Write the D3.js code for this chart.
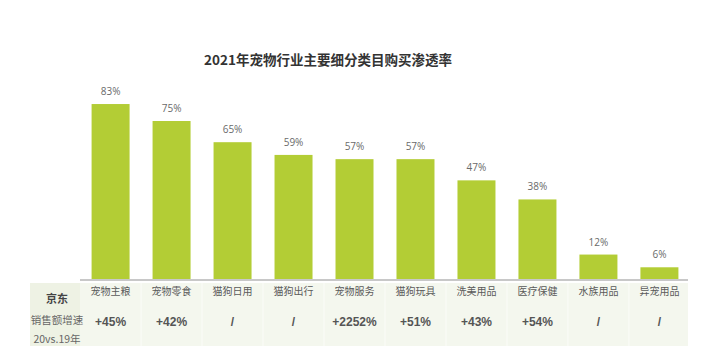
<!DOCTYPE html>
<html><head><meta charset="utf-8">
<script src="https://cdn.jsdelivr.net/npm/d3@7"></script>
<style>body{margin:0;background:#fff;font-family:"Noto Sans CJK SC","Noto Sans",sans-serif;}</style>
</head><body><svg id="c" width="727" height="361"></svg>
<script>
const categories = ["宠物主粮","宠物零食","猫狗日用","猫狗出行","宠物服务","猫狗玩具","洗美用品","医疗保健","水族用品","异宠用品"];
const penetration = [83,75,65,59,57,57,47,38,12,6];
const growth = ["+45%","+42%","/","/","+2252%","+51%","+43%","+54%","/","/"];
const title = "2021年宠物行业主要细分类目购买渗透率";
const rowHeader = ["京东","销售额增速","20vs.19年"];

const svg = d3.select("#c");
const x = d3.scaleBand().domain(categories).range([80,690]).paddingInner(0.377).paddingOuter(0.19);
const y = d3.scaleLinear().domain([0,100]).range([280,68]);

svg.append("text").attr("x",328).attr("y",65).attr("text-anchor","middle")
  .attr("font-size",13.5).attr("font-weight","bold").attr("fill","#333").text(title);

// table background
svg.append("rect").attr("x",30).attr("y",283).attr("width",658).attr("height",63).attr("fill","#f4f7ee");
svg.append("rect").attr("x",30).attr("y",283).attr("width",50).attr("height",63).attr("fill","#eef2e4");
categories.forEach((c,i)=>{
  if(i>0) svg.append("line").attr("x1",x(c)-x.step()*x.paddingInner()/2).attr("x2",x(c)-x.step()*x.paddingInner()/2)
    .attr("y1",283).attr("y2",346).attr("stroke","#fbfcf8").attr("stroke-width",1);
});

svg.selectAll("rect.bar").data(categories).join("rect").attr("class","bar")
  .attr("x",d=>x(d)).attr("width",x.bandwidth())
  .attr("y",(d,i)=>y(penetration[i])).attr("height",(d,i)=>y(0)-y(penetration[i]))
  .attr("fill","#b3cd35");

svg.selectAll("text.val").data(categories).join("text").attr("class","val")
  .attr("x",d=>x(d)+x.bandwidth()/2).attr("y",(d,i)=>y(penetration[i])-9)
  .attr("text-anchor","middle").attr("font-size",10).attr("fill","#6a6a6a")
  .attr("font-family","'Open Sans',sans-serif")
  .text((d,i)=>penetration[i]+"%");

const xAxis = d3.axisBottom(x).tickSize(0).tickPadding(8);
const ga = svg.append("g").attr("transform","translate(0,280)").call(xAxis);
ga.select(".domain").attr("stroke","#c8c8c8").attr("stroke-width",2).attr("d","M80,0H688");
ga.selectAll("text").attr("font-size",10).attr("fill","#5a5a5a")
  .attr("font-family","'Noto Sans CJK SC',sans-serif");

svg.selectAll("text.g").data(categories).join("text").attr("class","g")
  .attr("x",d=>x(d)+x.bandwidth()/2).attr("y",326)
  .attr("text-anchor","middle").attr("font-size",12).attr("font-weight","bold").attr("fill","#555")
  .attr("font-family","'Liberation Sans',Arial,sans-serif")
  .text((d,i)=>growth[i]);

svg.selectAll("text.rh").data(rowHeader).join("text").attr("class","rh")
  .attr("x",57).attr("y",(d,i)=>[303,324,343][i])
  .attr("text-anchor","middle").attr("font-size",(d,i)=>i===0?11:10.5)
  .attr("font-weight",(d,i)=>i===0?"bold":"normal").attr("fill",(d,i)=>i===0?"#444":"#666")
  .text(d=>d);
</script></body></html>
